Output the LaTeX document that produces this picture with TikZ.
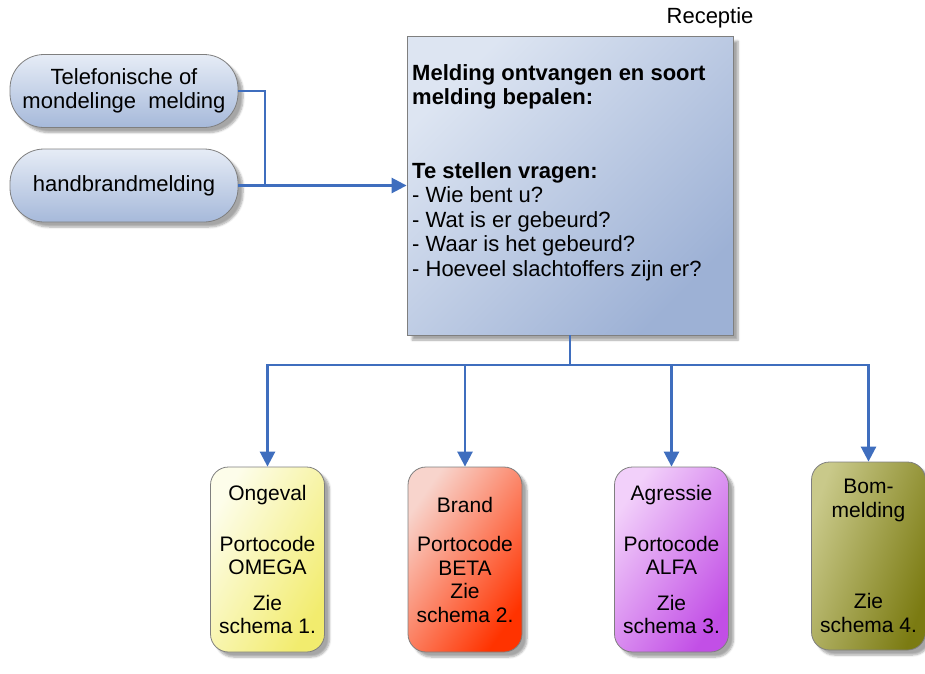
\documentclass[tikz,border=0pt]{standalone}
\usepackage{fontspec}
\setmainfont{Liberation Sans}
\usetikzlibrary{arrows.meta,shadows.blur}

\definecolor{flowblue}{HTML}{3F6EBE}
\definecolor{edgegray}{HTML}{7F7F7F}
\definecolor{pilltop}{HTML}{E6ECF6}
\definecolor{pillbot}{HTML}{A6B9DA}
\definecolor{boxlight}{HTML}{DDE5F2}
\definecolor{boxdark}{HTML}{9DB1D5}
\definecolor{yelL}{HTML}{FDFDEA}
\definecolor{yelD}{HTML}{F2EC6E}
\definecolor{redL}{HTML}{F8D4CC}
\definecolor{redD}{HTML}{FF3300}
\definecolor{purL}{HTML}{F2D0FA}
\definecolor{purD}{HTML}{C24FE6}
\definecolor{olvL}{HTML}{C9C98A}
\definecolor{olvD}{HTML}{7B7B12}

\tikzset{
  txt/.style={font=\fontsize{22}{24.5}\selectfont},
  casetxt/.style={font=\fontsize{21}{23.5}\selectfont},
  softshadow/.style={blur shadow={shadow xshift=5pt, shadow yshift=-5pt,
      shadow blur steps=6, shadow opacity=35}},
  pill/.style={txt, draw=edgegray, line width=0.8pt, rounded corners=34pt,
      top color=pilltop, bottom color=pillbot, align=center,
      minimum width=228pt, minimum height=73pt, inner sep=0pt, softshadow},
  mainbox/.style={draw=edgegray, line width=0.8pt, left color=boxlight,
      right color=boxdark, shading angle=45,
      minimum width=326pt, minimum height=299pt, inner sep=0pt, softshadow},
  casebox/.style={casetxt, draw=edgegray, line width=0.8pt, rounded corners=18pt,
      align=center, minimum width=114pt, minimum height=185pt,
      inner sep=0pt, softshadow},
  link/.style={draw=flowblue, line width=2.6pt},
  linkarrow/.style={link, -{Triangle[length=15pt,width=15pt]}},
}

\begin{document}
\begin{tikzpicture}[x=1pt,y=-1pt]
\useasboundingbox (0,0) rectangle (925,673);

% incoming reports
\node[pill] (tel) at (124,91) {Telefonische of\\mondelinge\ \ melding};
\node[pill] (hand) at (124,185.5) {handbrandmelding};

% reception task box
\node[mainbox] (main) at (570,185.5) {};
\node[txt, anchor=east] (recep) at (757,18) {Receptie};
\node[txt, anchor=north west, align=left, inner sep=0pt] (maintext) at (412,64)
  {\textbf{Melding ontvangen en soort}\\
   \textbf{melding bepalen:}\\[24.5pt]
   \\
   \textbf{Te stellen vragen:}\\
   - Wie bent u?\\
   - Wat is er gebeurd?\\
   - Waar is het gebeurd?\\
   - Hoeveel slachtoffers zijn er?};

% incident types
\node[casebox, left color=yelL, right color=yelD, shading angle=60] (ong) at (267.5,559.5)
  {Ongeval\\[27pt]Portocode\\OMEGA\\[12pt]Zie\\schema 1.};
\node[casebox, left color=redL, right color=redD, shading angle=55] (brand) at (465,559.5)
  {Brand\\[16pt]Portocode\\BETA\\Zie\\schema 2.};
\node[casebox, left color=purL, right color=purD, shading angle=55] (agr) at (671.5,559.5)
  {Agressie\\[27pt]Portocode\\ALFA\\[12pt]Zie\\schema 3.};
\node[casebox, left color=olvL, right color=olvD, shading angle=70,
      minimum height=188pt] (bom) at (868.5,556)
  {Bom-\\melding\\[68pt]Zie\\schema 4.};

% connectors
\coordinate (join) at (265,185.5);
\coordinate (split) at (570,365);
\draw[link] (tel.east) -| (join);
\draw[linkarrow] (hand.east) -- (hand.east -| main.west);
\draw[linkarrow] (main.south) -- (split) -| (ong.north);
\draw[linkarrow] (main.south) -- (split) -| (brand.north);
\draw[linkarrow] (main.south) -- (split) -| (agr.north);
\draw[linkarrow] (main.south) -- (split) -| (bom.north);
\end{tikzpicture}
\end{document}
